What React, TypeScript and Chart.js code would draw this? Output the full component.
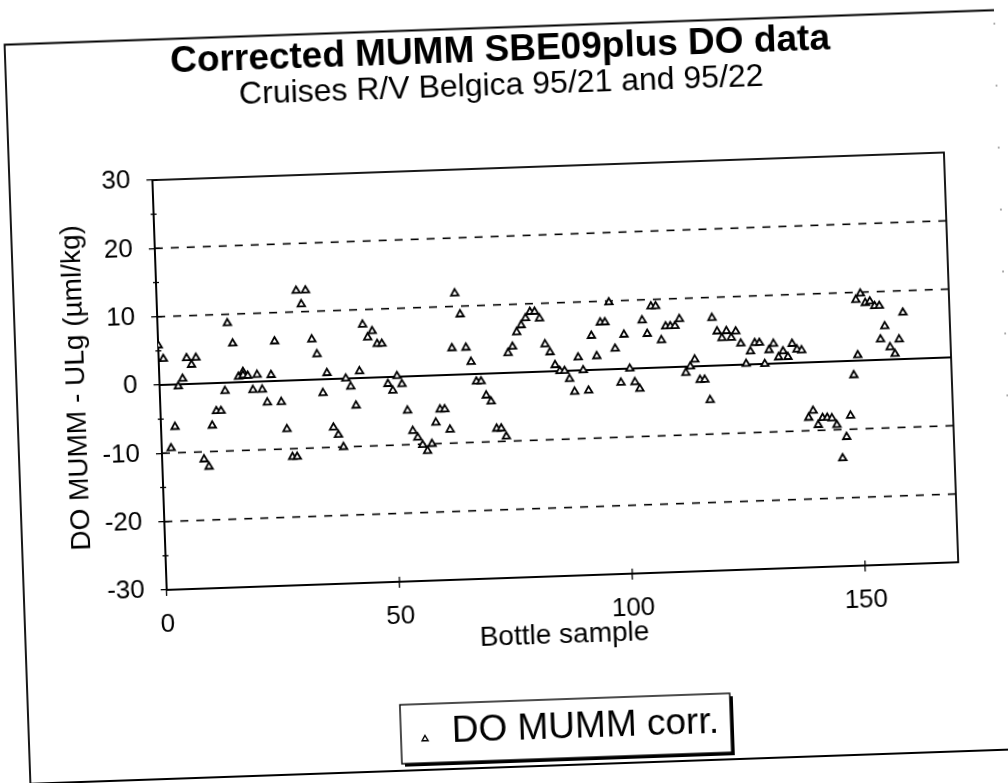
import React, { useEffect, useRef } from 'react';
import { Chart, registerables } from 'chart.js';

Chart.register(...registerables);

// ---- data ----
const sampleX = [
  0, 1, 2, 3, 4, 5, 6, 7, 8, 9, 10, 11, 12, 13, 14, 15, 16, 17, 18, 18, 19, 20, 21, 22, 23, 24, 25, 26, 27, 28, 29,
  30, 31, 32, 33, 34, 35, 36, 37, 38, 39, 40, 41, 42, 43, 44, 45, 46, 47, 48, 49, 50, 51, 52, 53, 54, 55, 56, 57, 58, 59,
  60, 61, 62, 63, 64, 65, 66, 67, 68, 69, 70, 71, 72, 73, 74, 75, 76, 77, 78, 79, 80, 81, 82, 83, 84, 85, 86, 87, 88, 89,
  90, 91, 92, 93, 94, 95, 96, 97, 98, 99, 100, 101, 102, 103, 104, 105, 106, 107, 108, 109, 110, 111, 112, 113, 114, 115,
  116, 117, 118, 119, 120, 121, 122, 123, 124, 125, 126, 127, 128, 129, 130, 131, 132, 133, 134, 135, 136, 137, 138,
  139, 140, 141, 142, 143, 144, 145, 146, 147, 148, 149, 150, 150, 151, 152, 153, 154, 155, 155, 156, 157, 158, 159, 160,
];
const doDiff = [
  5.8, 3.8, -9.3, -6.2, -0.3, 0.8, 3.8, 2.8, 3.8, -11.1, -12.2, -6.2, -4.1, -4.1, -1.2, 8.7, 5.7, 0.8, 1.5, 1.0, 0.9, -1.2, 1.0, -1.2, -3.1, 0.9, 5.8, -3.1, -7.1, -11.2, -11.2,
  13.1, 11.1, 13.1, 5.9, 3.7, -2.0, 0.9, -7.1, -8.2, -10.0, 0, -1.2, -4.0, 1.0, 7.8, 5.9, 6.8, 4.9, 4.9, -1.0, -2.0, 0.1, -1.1, -5.0, -8.0, -9.0, -10.1, -11.0, -10.0, -6.9,
  -5.0, -5.0, -8.0, 3.9, 11.9, 8.8, 3.9, 1.8, -1.1, -1.1, -3.2, -4.1, -8.1, -8.1, -9.3, 2.9, 3.8, 5.9, 6.9, 7.9, 8.8, 8.8, 7.8, 4.0, 2.8, 0.9, 0, 0, -1.2, -3.1,
  1.9, 0, -3.0, 5.0, 2.0, 6.9, 6.9, 9.8, 3.0, -2.0, 5.0, 0, -2.0, -3.0, 7.0, 5.0, 9.0, 9.0, 4.0, 6.0, 6.0, 6.0, 7.0, -0.9, 0, 1.0,
  -2.0, -2.0, -5.0, 7.0, 5.0, 4.0, 5.0, 4.0, 4.9, 3.1, 0.1, 1.9, 3.1, 3.1, 0, 2.0, 2.9, 0.9, 1.75, 0.9, 2.8, 1.95, 1.8,
  -8.1, -7.1, -9.2, -8.2, -8.2, -8.3, -9.3, -14.2, -11.1, -8.0, -2.1, 0.8, 8.9, 9.8, 8.4, 8.6, 7.9, 7.9, 3.0, 4.9, 1.8, 0.8, 2.9, 6.8,
];
const xTickValues = [0, 50, 100, 150];
const yGridValues = [-20, -10, 0, 10, 20];
const yMinorValues = [-25, -15, -5, 5, 15, 25];

const TITLE = 'Corrected MUMM SBE09plus DO data';
const SUBTITLE = 'Cruises R/V Belgica 95/21 and 95/22';
const X_TITLE = 'Bottle sample';
const Y_TITLE = 'DO MUMM - ULg (\u00b5ml/kg)';
const LEGEND_LABEL = 'DO MUMM corr.';

const FONT = '"Liberation Sans", Arial, Helvetica, sans-serif';

function triangle(ctx: CanvasRenderingContext2D, x: number, y: number, r: number) {
  ctx.beginPath();
  for (let i = 0; i < 3; i++) {
    const a = (i * 2 * Math.PI) / 3;
    const px = x + Math.sin(a) * r;
    const py = y - Math.cos(a) * r;
    if (i === 0) ctx.moveTo(px, py);
    else ctx.lineTo(px, py);
  }
  ctx.closePath();
}

const decorPlugin = {
  id: 'decor',
  beforeDatasetsDraw(chart: any) {
    const { ctx, chartArea: a, scales } = chart;
    const ys = scales.y;
    const xs = scales.x;
    ctx.save();
    ctx.strokeStyle = '#000';
    yGridValues.forEach((v) => {
      const py = ys.getPixelForValue(v);
      ctx.beginPath();
      ctx.lineWidth = v === 0 ? 2 : 1.6;
      ctx.setLineDash(v === 0 ? [] : [8, 8]);
      ctx.moveTo(a.left, py);
      ctx.lineTo(a.right, py);
      ctx.stroke();
    });
    ctx.setLineDash([]);
    ctx.lineWidth = 1.8;
    ctx.strokeRect(a.left, a.top, a.right - a.left, a.bottom - a.top);
    // inner halves of tick marks and minor ticks on the y axis
    ctx.lineWidth = 1.3;
    ys.ticks.forEach((t: any) => {
      const py = ys.getPixelForValue(t.value);
      ctx.beginPath();
      ctx.moveTo(a.left, py);
      ctx.lineTo(a.left + 5, py);
      ctx.stroke();
    });
    yMinorValues.forEach((v) => {
      const py = ys.getPixelForValue(v);
      ctx.beginPath();
      ctx.moveTo(a.left - 3, py);
      ctx.lineTo(a.left + 3, py);
      ctx.stroke();
    });
    xTickValues.forEach((v) => {
      const px = xs.getPixelForValue(v);
      ctx.beginPath();
      ctx.moveTo(px, a.bottom);
      ctx.lineTo(px, a.bottom - 5);
      ctx.stroke();
    });
    ctx.restore();
  },
  afterDraw(chart: any) {
    const { ctx } = chart;
    ctx.save();
    ctx.fillStyle = '#000';
    ctx.strokeStyle = '#000';
    // outer chart frame
    ctx.lineWidth = 1.8;
    ctx.beginPath();
    ctx.moveTo(1007, 27.5);
    ctx.lineTo(17, 27.5);
    ctx.lineTo(17, 767);
    ctx.lineTo(1007, 767);
    ctx.stroke();
    ctx.setLineDash([2, 60]);
    ctx.lineWidth = 1;
    ctx.strokeStyle = '#555';
    ctx.beginPath();
    ctx.moveTo(1007, 40);
    ctx.lineTo(1007, 767);
    ctx.stroke();
    ctx.setLineDash([]);
    ctx.strokeStyle = '#000';

    // titles
    ctx.textAlign = 'center';
    ctx.textBaseline = 'middle';
    ctx.font = `bold 37px ${FONT}`;
    ctx.fillText(TITLE, 512, 51);
    ctx.font = `32px ${FONT}`;
    ctx.fillText(SUBTITLE, 512, 86);

    // legend box with shadow
    const lx = 389, ly = 701, lw = 330, lh = 59;
    ctx.fillRect(lx + 3, ly + 3, lw, lh);
    ctx.fillStyle = '#fff';
    ctx.fillRect(lx, ly, lw, lh);
    ctx.lineWidth = 1.4;
    ctx.strokeRect(lx, ly, lw, lh);
    triangle(ctx, 413, 736, 3.5);
    ctx.fillStyle = '#fff';
    ctx.fill();
    ctx.lineWidth = 1.4;
    ctx.stroke();
    ctx.fillStyle = '#000';
    ctx.textAlign = 'left';
    ctx.font = `37px ${FONT}`;
    ctx.fillText(LEGEND_LABEL, 440, 730);
    ctx.restore();
  },
};

export default function App() {
  const ref = useRef<HTMLCanvasElement>(null);

  useEffect(() => {
    document.body.style.overflow = 'hidden';
    const canvas = ref.current;
    if (!canvas) return;
    const chart = new Chart(canvas, {
      type: 'scatter',
      data: {
        datasets: [
          {
            label: LEGEND_LABEL,
            data: sampleX.map((x, i) => ({ x, y: doDiff[i] })),
            pointStyle: 'triangle',
            pointRadius: 4.3,
            pointBorderWidth: 1.8,
            pointBackgroundColor: '#fff',
            pointBorderColor: '#000',
            showLine: false,
          },
        ],
      },
      options: {
        responsive: false,
        animation: false,
        devicePixelRatio: 1,
        layout: { padding: { left: 0, top: 168, right: 56, bottom: 125 } },
        plugins: {
          legend: { display: false },
          title: { display: false },
          tooltip: { enabled: false },
        },
        scales: {
          x: {
            type: 'linear',
            min: 0,
            max: 170,
            afterBuildTicks: (s: any) => {
              s.ticks = xTickValues.map((v) => ({ value: v }));
            },
            afterFit: (s: any) => {
              s.height = 80;
            },
            grid: { drawOnChartArea: false, drawTicks: true, tickLength: 6, color: '#000', lineWidth: 1.3 },
            border: { display: true, color: '#000', width: 1.8 },
            ticks: { color: '#000', font: { family: FONT, size: 26 }, padding: 13, maxRotation: 0 },
            title: {
              display: true,
              text: X_TITLE,
              color: '#000',
              font: { family: FONT, size: 28 },
              padding: { top: 0, bottom: 4 },
            },
          },
          y: {
            type: 'linear',
            min: -30,
            max: 30,
            afterFit: (s: any) => {
              s.width = 160;
            },
            grid: { drawOnChartArea: false, drawTicks: true, tickLength: 6, color: '#000', lineWidth: 1.3 },
            border: { display: true, color: '#000', width: 1.8 },
            ticks: { stepSize: 10, color: '#000', font: { family: FONT, size: 26 }, padding: 16 },
            title: {
              display: true,
              text: Y_TITLE,
              color: '#000',
              font: { family: FONT, size: 28 },
              padding: { top: 60, bottom: 0 },
            },
          },
        },
      },
      plugins: [decorPlugin],
    } as any);
    return () => chart.destroy();
  }, []);

  return (
    <div
      style={{
        position: 'fixed',
        left: 0,
        top: 0,
        width: 1008,
        height: 783,
        transform: 'rotate(-2deg)',
        transformOrigin: '504px 391.5px',
      }}
    >
      <canvas ref={ref} width={1008} height={783} style={{ display: 'block', width: 1008, height: 783 }} />
    </div>
  );
}
